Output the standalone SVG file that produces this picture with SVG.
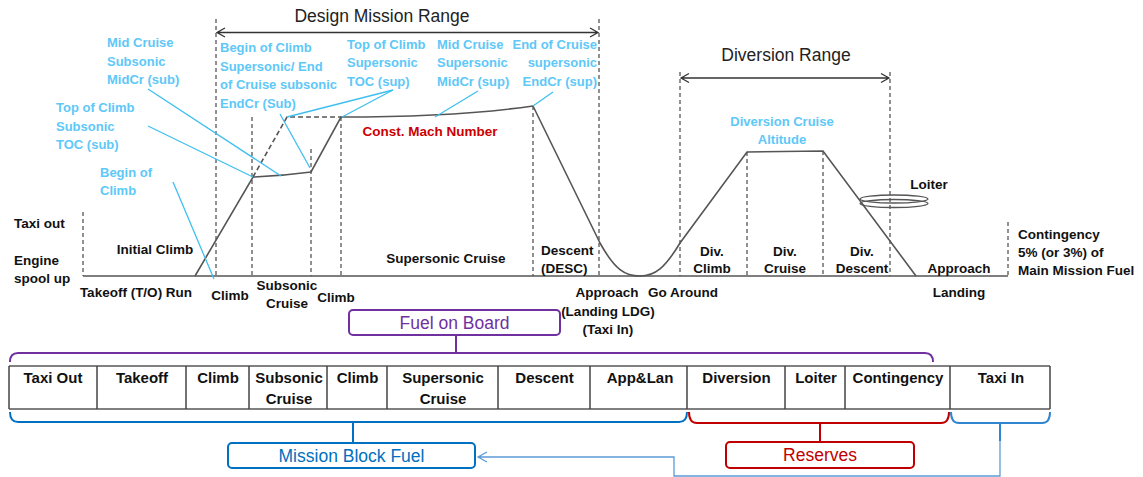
<svg xmlns="http://www.w3.org/2000/svg" width="1143" height="477" viewBox="0 0 1143 477">
<style>
text{font-family:"Liberation Sans",Arial,sans-serif}
.b{font-weight:bold;font-size:13.5px;fill:#111}
.bl{font-weight:bold;font-size:13px;fill:#5EC8F8}
.red{font-weight:bold;font-size:13.5px;fill:#CC0000}
.ttl{font-size:17.5px;fill:#222}
.tc{font-weight:bold;font-size:15px;fill:#111;text-anchor:middle}
.m{text-anchor:middle}
.e{text-anchor:end}
.dash{stroke:#222;stroke-width:1;stroke-dasharray:4 3;fill:none}
.prof{stroke:#555;stroke-width:1.6;fill:none}
.prof2{stroke:#555;stroke-width:1.6;fill:none;stroke-dasharray:5 3}
.lead{stroke:#3FBFF0;stroke-width:1.3;fill:none}
.arr{stroke:#333;stroke-width:1.3;fill:none}
.box{fill:#fff;stroke-width:2}
.tl{font-size:17.5px;text-anchor:middle}
</style>

<g id="guides">
<line class="dash" x1="83" y1="212" x2="83" y2="276"/>
<line class="dash" x1="216" y1="19" x2="216" y2="276"/>
<line class="dash" x1="252" y1="117" x2="252" y2="276"/>
<line class="dash" x1="311" y1="149" x2="311" y2="276"/>
<line class="dash" x1="341" y1="117" x2="341" y2="276"/>
<line class="dash" x1="533" y1="106" x2="533" y2="276"/>
<line class="dash" x1="599" y1="19" x2="599" y2="276"/>
<line class="dash" x1="680" y1="72" x2="680" y2="276"/>
<line class="dash" x1="747" y1="152" x2="747" y2="276"/>
<line class="dash" x1="823" y1="151" x2="823" y2="276"/>
<line class="dash" x1="890" y1="72" x2="890" y2="276"/>
<line class="dash" x1="1008" y1="222" x2="1008" y2="276"/>
</g>

<g id="range-arrows">
<path class="arr" d="M217,32.5 H598 M225,28 L217,32.5 L225,37 M590,28 L598,32.5 L590,37"/>
<path class="arr" d="M681,78 H889 M689,73.5 L681,78 L689,82.5 M881,73.5 L889,78 L881,82.5"/>
<text class="ttl m" x="382" y="22">Design Mission Range</text>
<text class="ttl m" x="786" y="61">Diversion Range</text>
</g>

<g id="profile">
<line class="prof" x1="83" y1="276" x2="1008" y2="276"/>
<path class="prof" d="M195,276 L253,177 Q282,176 311,172 L341,117 C400,117 470,115 533,106 L600,243 C615,270 625,276 640,276 C655,276 665,268 680,243 L747,152 L823,151 L916,276"/>
<path class="prof2" d="M253,177 L287,117 L341,117"/>
<ellipse cx="894" cy="199" rx="34" ry="4" fill="none" stroke="#555" stroke-width="1.3"/>
<ellipse cx="894" cy="203.5" rx="34" ry="4" fill="none" stroke="#555" stroke-width="1.3"/>
</g>

<g id="leaders">
<line class="lead" x1="173" y1="182" x2="214" y2="279"/>
<line class="lead" x1="148" y1="126" x2="253" y2="177"/>
<line class="lead" x1="148" y1="89" x2="281" y2="176"/>
<line class="lead" x1="280" y1="114" x2="310" y2="168"/>
<line class="lead" x1="393" y1="90" x2="287" y2="117"/>
<line class="lead" x1="393" y1="90" x2="342" y2="117"/>
<line class="lead" x1="478" y1="91" x2="435" y2="117"/>
<line class="lead" x1="553" y1="92" x2="533" y2="106"/>
</g>

<g id="point-labels">
<text class="bl" x="107" y="47">Mid Cruise</text>
<text class="bl" x="107" y="65.5">Subsonic</text>
<text class="bl" x="107" y="84">MidCr (sub)</text>
<text class="bl" x="56" y="111.5">Top of Climb</text>
<text class="bl" x="56" y="130.5">Subsonic</text>
<text class="bl" x="56" y="148.5">TOC (sub)</text>
<text class="bl" x="100" y="176.5">Begin of</text>
<text class="bl" x="100" y="194.5">Climb</text>
<text class="bl" x="220" y="52">Begin of Climb</text>
<text class="bl" x="220" y="70.5">Supersonic/ End</text>
<text class="bl" x="220" y="89">of Cruise subsonic</text>
<text class="bl" x="220" y="107.5">EndCr (Sub)</text>
<text class="bl" x="347" y="48.5">Top of Climb</text>
<text class="bl" x="347" y="67">Supersonic</text>
<text class="bl" x="347" y="85.5">TOC (sup)</text>
<text class="bl" x="437" y="48.5">Mid Cruise</text>
<text class="bl" x="437" y="67">Supersonic</text>
<text class="bl" x="437" y="85.5">MidCr (sup)</text>
<text class="bl e" x="597" y="48.5">End of Cruise</text>
<text class="bl e" x="597" y="67">supersonic</text>
<text class="bl e" x="597" y="85.5">EndCr (sup)</text>
<text class="bl m" x="782" y="126">Diversion Cruise</text>
<text class="bl m" x="782" y="144">Altitude</text>
<text class="red m" x="430" y="136">Const. Mach Number</text>
</g>

<g id="phase-labels">
<text class="b" x="14" y="228">Taxi out</text>
<text class="b" x="14" y="265">Engine</text>
<text class="b" x="14" y="283">spool up</text>
<text class="b m" x="155" y="254">Initial Climb</text>
<text class="b m" x="136" y="297">Takeoff (T/O) Run</text>
<text class="b m" x="230" y="300">Climb</text>
<text class="b m" x="287" y="290">Subsonic</text>
<text class="b m" x="287" y="308">Cruise</text>
<text class="b m" x="336" y="302">Climb</text>
<text class="b m" x="446" y="263">Supersonic Cruise</text>
<text class="b" x="541" y="255">Descent</text>
<text class="b" x="541" y="273">(DESC)</text>
<text class="b m" x="607" y="297">Approach</text>
<text class="b m" x="608" y="316">(Landing LDG)</text>
<text class="b m" x="608" y="334">(Taxi In)</text>
<text class="b m" x="683" y="297">Go Around</text>
<text class="b m" x="712" y="256">Div.</text>
<text class="b m" x="712" y="273">Climb</text>
<text class="b m" x="785" y="256">Div.</text>
<text class="b m" x="785" y="273">Cruise</text>
<text class="b m" x="862" y="256">Div.</text>
<text class="b m" x="862" y="273">Descent</text>
<text class="b m" x="929" y="189">Loiter</text>
<text class="b m" x="959" y="273">Approach</text>
<text class="b m" x="959" y="297">Landing</text>
<text class="b" x="1018" y="239">Contingency</text>
<text class="b" x="1018" y="257">5% (or 3%) of</text>
<text class="b" x="1018" y="275">Main Mission Fuel</text>
</g>

<g id="table">
<line x1="9" y1="366" x2="1050" y2="366" stroke="#808080" stroke-width="2"/>
<line x1="9" y1="409" x2="1050" y2="409" stroke="#808080" stroke-width="2"/>
<path d="M9,366V409 M97,366V409 M186,366V409 M249,366V409 M327,366V409 M387,366V409 M498,366V409 M590,366V409 M687,366V409 M785,366V409 M845,366V409 M950,366V409 M1050,366V409" stroke="#444" stroke-width="1.5" fill="none"/>
<text class="tc" x="53" y="382.5">Taxi Out</text>
<text class="tc" x="142" y="382.5">Takeoff</text>
<text class="tc" x="218" y="382.5">Climb</text>
<text class="tc" x="289" y="382.5">Subsonic</text>
<text class="tc" x="289" y="404">Cruise</text>
<text class="tc" x="357.5" y="382.5">Climb</text>
<text class="tc" x="443" y="382.5">Supersonic</text>
<text class="tc" x="443" y="404">Cruise</text>
<text class="tc" x="544.5" y="382.5">Descent</text>
<text class="tc" x="640" y="382.5">App&amp;Lan</text>
<text class="tc" x="736.5" y="382.5">Diversion</text>
<text class="tc" x="816" y="382.5">Loiter</text>
<text class="tc" x="898" y="382.5">Contingency</text>
<text class="tc" x="1001" y="382.5">Taxi In</text>
</g>

<g id="connectors">
<path d="M10,362 Q10,353 18,353 H925 Q933,353 933,362 M456,353 V335" stroke="#7030A0" stroke-width="2" fill="none"/>
<path d="M10,412 Q10,422 18,422 H679 Q687,422 687,412 M353,422 V443" stroke="#0070C0" stroke-width="2" fill="none"/>
<path d="M689,412 Q689,423 697,423 H941 Q949,423 949,412 M820,423 V442" stroke="#C00000" stroke-width="2" fill="none"/>
<path d="M951,412 Q951,423 959,423 H1042 Q1050,423 1050,412 M1000,423 V441" stroke="#2F85CF" stroke-width="2" fill="none"/>
<path d="M1000,441 V476 H674 V457 H478 M487,452 L478,457 L487,462" stroke="#5B9BD5" stroke-width="1.3" fill="none"/>
</g>

<g id="fuel-on-board">
<rect class="box" x="349" y="310" width="211" height="25" rx="4" stroke="#7030A0"/>
<text class="tl" x="454.5" y="328.5" fill="#7030A0">Fuel on Board</text>
</g>
<g id="mission-block-fuel">
<rect class="box" x="228" y="443" width="247" height="25" rx="4" stroke="#0070C0"/>
<text class="tl" x="351.5" y="461.5" fill="#0070C0">Mission Block Fuel</text>
</g>
<g id="reserves">
<rect class="box" x="726" y="442" width="188" height="26" rx="4" stroke="#C00000"/>
<text class="tl" x="820" y="461" fill="#C00000">Reserves</text>
</g>
</svg>
